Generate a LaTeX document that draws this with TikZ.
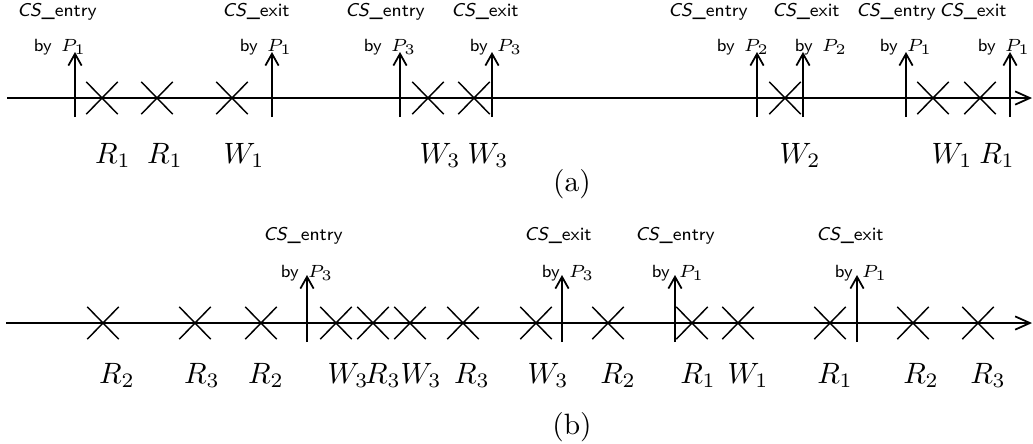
\documentclass[tikz,border=0pt]{standalone}
\usepackage{fontspec}
\usetikzlibrary{arrows.meta}
\usetikzlibrary{shapes.misc, math}

\begin{document}
\begin{tikzpicture}[x=0.34pt, y=-0.34pt,
  opx/.style={cross out, draw, line width=0.5pt, minimum width=10.2pt, minimum height=10.5pt, inner sep=0pt},
  cslab/.style={font=\fontsize{6.3}{7}\selectfont\sffamily, inner sep=0pt, anchor=base},
  bylab/.style={font=\fontsize{6}{7}\selectfont\sffamily, inner sep=0pt, anchor=base},
  oplab/.style={inner sep=0pt, anchor=base},
  ev/.style={-{Straight Barb[length=4pt,width=4.5pt]}, line width=0.6pt},
  timeline/.style={-{Straight Barb[length=5pt,width=4.5pt]}, line width=0.6pt}]

\tikzmath{
\ya = 98; % time line (a)
\yb = 323; % time line (b)
\up = 46; % arrow above line
\dn = 19; % arrow below line
}

\useasboundingbox (0,0) rectangle (1033,443);

%time lines:
\coordinate (a-start) at (7,\ya);
\coordinate (a-end) at (1032,\ya);
\coordinate (b-start) at (6,\yb);
\coordinate (b-end) at (1032,\yb);
\draw[timeline] (a-start) -- (a-end);
\draw[timeline] (b-start) -- (b-end);

%operations (a)
\foreach \x/\op/\lx [count=\i] in {102/R_1/113, 157/R_1/165, 232/W_1/244, 428/W_3/440,
    474/W_3/488, 785/W_2/800, 933/W_1/952, 980/R_1/997}{
  \node[opx] (a-op\i) at (\x,\ya) {};
  \node[oplab] (a-lab\i) at (\lx,\ya+65) {$\op$};
}

%CS entry / exit (a)
\foreach \x/\cs/\cx/\p/\px [count=\i] in {75/entry/57/1/60, 272/exit/256/1/266,
    400/entry/385/3/390, 492/exit/485/3/496, 757/entry/708/2/743,
    803/exit/806/2/821, 906/entry/896/1/906, 1010/exit/973/1/1004}{
  \coordinate (a-ev\i) at (\x,\ya+\dn);
  \coordinate (a-tip\i) at (\x,\ya-\up);
  \draw[ev] (a-ev\i) -- (a-tip\i);
  \node[cslab] (a-cs\i) at (\cx,\ya-82) {\textsl{CS}\_\cs};
  \node[bylab] (a-by\i) at (\px,\ya-47) {by\, $P_{\p}$};
}

\node (a-cap) at (572,184) {(a)};

%operations (b)
\foreach \x/\op/\lx [count=\i] in {103/R_2/117, 195/R_3/202, 261/R_2/266, 336/W_3/348,
    373/R_3/383, 410/W_3/421, 463/R_3/472, 536/W_3/548, 608/R_2/618,
    692/R_1/698, 738/W_1/748, 830/R_1/835, 913/R_2/921, 978/R_3/988}{
  \node[opx] (b-op\i) at (\x,\yb) {};
  \node[oplab] (b-lab\i) at (\lx,\yb+60) {$\op$};
}

%CS entry / exit (b)
\foreach \x/\cs/\cx/\p/\px [count=\i] in {307/entry/303/3/307, 562/exit/558/3/568,
    675/entry/675/1/678, 857/exit/850/1/861}{
  \coordinate (b-ev\i) at (\x,\yb+\dn);
  \coordinate (b-tip\i) at (\x,\yb-\up-2);
  \draw[ev] (b-ev\i) -- (b-tip\i);
  \node[cslab] (b-cs\i) at (\cx,\yb-83) {\textsl{CS}\_\cs};
  \node[bylab] (b-by\i) at (\px,\yb-46) {by\, $P_{\p}$};
}

\node (b-cap) at (572,427) {(b)};

\end{tikzpicture}
\end{document}
